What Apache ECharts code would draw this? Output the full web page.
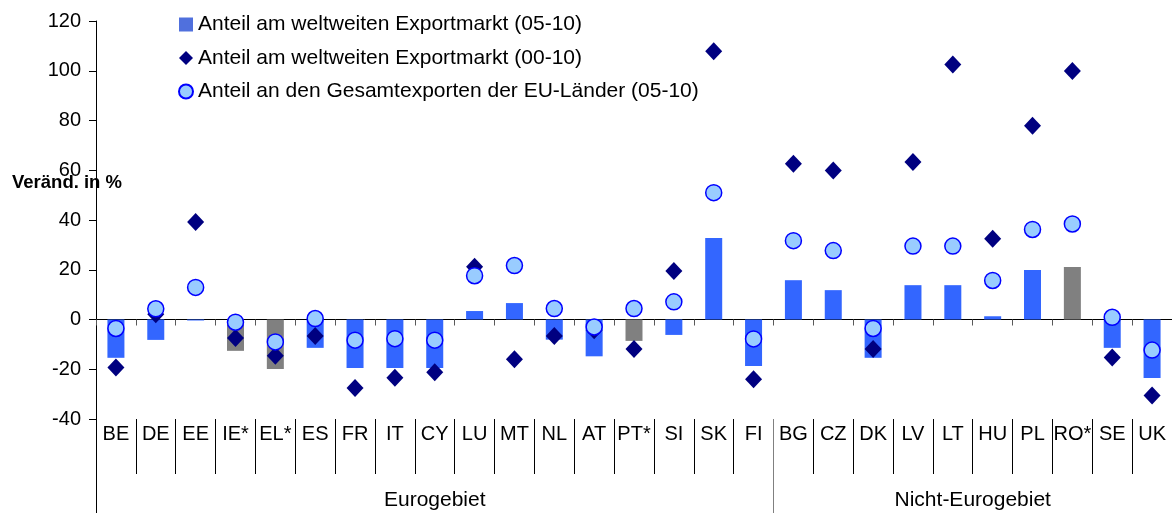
<!DOCTYPE html>
<html>
<head>
<meta charset="utf-8">
<script src="https://cdn.jsdelivr.net/npm/echarts@6/dist/echarts.min.js"></script>
<style>
html,body{margin:0;padding:0;background:#fff;}
#chart{width:1172px;height:513px;}
</style>
</head>
<body>
<div id="chart"></div>
<script>
const categories = ['BE','DE','EE','IE*','EL*','ES','FR','IT','CY','LU','MT','NL','AT','PT*','SI','SK','FI','BG','CZ','DK','LV','LT','HU','PL','RO*','SE','UK'];
const worldShare0510 = [-15.4,-8.2,-0.4,-12.6,-19.9,-11.4,-19.5,-19.5,-19.5,3.4,6.6,-8.1,-14.8,-8.6,-6.2,32.8,-18.7,15.8,11.8,-15.4,13.8,13.8,1.3,19.9,21.1,-11.4,-23.5];
const worldShare0010 = [-19.3,2.1,39.2,-7.4,-14.6,-6.6,-27.5,-23.4,-21.2,21.2,-16.0,-6.6,-4.3,-11.9,19.5,107.8,-24.0,62.6,59.9,-11.9,63.3,102.5,32.5,77.9,99.9,-15.3,-30.6];
const euShare0510 = [-3.6,4.3,12.9,-1.1,-9.0,0.4,-8.3,-7.7,-8.3,17.6,21.7,4.4,-3.0,4.4,7.1,51.0,-7.8,31.7,27.7,-3.6,29.5,29.5,15.7,36.2,38.4,0.9,-12.3];
const seriesNames = ['Anteil am weltweiten Exportmarkt (05-10)','Anteil am weltweiten Exportmarkt (00-10)','Anteil an den Gesamtexporten der EU-Länder (05-10)'];
const groupNames = ['Eurogebiet','Nicht-Eurogebiet'];
const groupSizes = [17,10];
const yTicks = {min:-40,max:120,interval:20};
const yTitle = 'Veränd. in %';

const FONT = "'Liberation Sans', Arial, sans-serif";
const groupStarts = [];
const groupCenters = [];
let acc = 0;
groupSizes.forEach(n => { groupStarts.push(acc); groupCenters.push(acc + n/2); acc += n; });
const total = acc;

const chart = echarts.init(document.getElementById('chart'), null, {renderer:'canvas'});
chart.setOption({
  animation:false,
  backgroundColor:'#ffffff',
  title:{text:yTitle,left:12,top:173,padding:0,textStyle:{fontFamily:FONT,fontSize:18.5,fontWeight:'bold',color:'#000'}},
  legend:{
    orient:'vertical',left:178,top:14,padding:0,itemWidth:14,itemHeight:14,itemGap:12.5,
    textStyle:{fontFamily:FONT,fontSize:21,color:'#000',lineHeight:20},
    data:[{name:seriesNames[0],icon:'rect'},{name:seriesNames[1],icon:'diamond'},{name:seriesNames[2],icon:'circle'}]
  },
  grid:{left:96,top:21,width:1080,bottom:94,containLabel:false},
  xAxis:[
    {type:'category',data:categories,position:'bottom',
     axisLine:{onZero:true,lineStyle:{color:'#000',width:1}},
     axisTick:{show:true,interval:0,length:6,lineStyle:{color:'#595959'}},
     axisLabel:{show:false},splitLine:{show:false}},
    {type:'category',data:categories,position:'bottom',
     axisLine:{show:false,onZero:false},
     axisTick:{show:true,interval:0,length:55,lineStyle:{color:'#000'}},
     axisLabel:{show:true,interval:0,margin:5,fontFamily:FONT,fontSize:20,color:'#000'},
     splitLine:{show:false}},
    {type:'value',min:0,max:total,position:'bottom',
     axisLine:{show:false,onZero:false},
     axisTick:{show:true,length:95,customValues:[groupStarts[0]],lineStyle:{color:'#000'}},
     axisLabel:{show:true,margin:71,customValues:groupCenters,fontFamily:FONT,fontSize:21,color:'#000',
       formatter:function(v){const i=groupCenters.indexOf(v);return i>=0?groupNames[i]:'';}},
     splitLine:{show:false}},
    {type:'value',min:0,max:total,position:'bottom',
     axisLine:{show:false,onZero:false},
     axisTick:{show:true,length:95,customValues:groupStarts.slice(1),lineStyle:{color:'#808080'}},
     axisLabel:{show:false},splitLine:{show:false}}
  ],
  yAxis:{type:'value',min:yTicks.min,max:yTicks.max,interval:yTicks.interval,
    axisLine:{show:true,onZero:false,lineStyle:{color:'#000'}},
    axisTick:{show:true,length:7,lineStyle:{color:'#000'}},
    axisLabel:{margin:15,fontFamily:FONT,fontSize:20,color:'#000'},
    splitLine:{show:false}},
  series:[
    {name:seriesNames[0],type:'bar',xAxisIndex:0,barWidth:17,data:worldShare0510,
     itemStyle:{color:function(p){return categories[p.dataIndex].indexOf('*')>=0?'#808080':'#3366FF';},opacity:1},
     z:2},
    {name:seriesNames[1],type:'scatter',xAxisIndex:0,symbol:'diamond',symbolSize:[17,18],data:worldShare0010,
     itemStyle:{color:'#000080',opacity:1},z:3},
    {name:seriesNames[2],type:'scatter',xAxisIndex:0,symbol:'circle',symbolSize:16,data:euShare0510,
     itemStyle:{color:'#99CCFF',borderColor:'#0000FF',borderWidth:1.5,opacity:1},z:4}
  ]
});
</script>
</body>
</html>
